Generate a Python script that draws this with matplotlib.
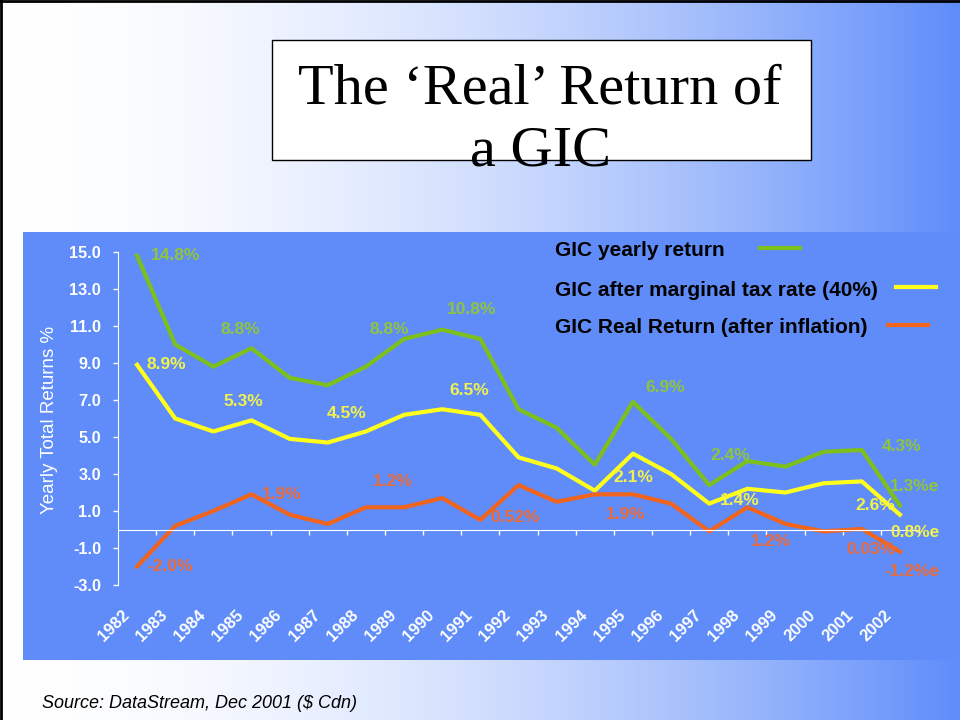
import numpy as np
import matplotlib.pyplot as plt
from matplotlib.patches import Rectangle
from matplotlib.lines import Line2D
import matplotlib.transforms as mtransforms

plt.rcParams['font.family'] = ['Liberation Sans', 'DejaVu Sans']

# data
years = [str(y) for y in range(1982, 2003)]
gic_yearly = [14.8, 10.0, 8.8, 9.8, 8.2, 7.8, 8.8, 10.3, 10.8, 10.3, 6.5,
              5.5, 3.5, 6.9, 4.9, 2.4, 3.7, 3.4, 4.2, 4.3, 1.3]
gic_after_tax = [8.9, 6.0, 5.3, 5.9, 4.9, 4.7, 5.3, 6.2, 6.5, 6.2, 3.9,
                 3.3, 2.1, 4.1, 3.0, 1.4, 2.2, 2.0, 2.5, 2.6, 0.8]
gic_real = [-2.0, 0.2, 1.0, 1.9, 0.8, 0.3, 1.2, 1.2, 1.7, 0.52, 2.4,
            1.5, 1.9, 1.9, 1.4, -0.1, 1.2, 0.3, -0.1, 0.03, -1.2]

series_names = ['GIC yearly return',
                'GIC after marginal tax rate (40%)',
                'GIC Real Return (after inflation)']

# point labels: (index of point, text)
yearly_labels = [(0, '14.8%'), (2, '8.8%'), (6, '8.8%'), (8, '10.8%'),
                 (13, '6.9%'), (15, '2.4%'), (19, '4.3%'), (20, '1.3%e')]
after_tax_labels = [(0, '8.9%'), (2, '5.3%'), (5, '4.5%'), (8, '6.5%'),
                    (12, '2.1%'), (15, '1.4%'), (19, '2.6%'), (20, '0.8%e')]
real_labels = [(0, '-2.0%'), (3, '1.9%'), (6, '1.2%'), (9, '0.52%'),
               (13, '1.9%'), (16, '1.2%'), (19, '0.03%'), (20, '-1.2%e')]

# label offsets in pixels, up is positive (layout only)
yearly_off = [(38, 0), (27, 37), (23, 37), (29, 20), (32, 14), (21, 30), (40, 3), (15, 19)]
after_tax_off = [(29, 0), (30, 30), (19, 29), (27, 19), (39, 13), (31, 3), (13, -24), (15, -18)]
real_off = [(33, 0), (30, 0), (27, 26), (35, 2), (-7, -20), (23, -34), (9, -21), (12, -20)]

green, yellow, orange = '#7dbf1d', '#ffff1a', '#f0641e'
green_t, yellow_t, orange_t = '#8fc43f', '#f2f24a', '#e86a3a'
panel_blue = '#5f8cf8'

fig = plt.figure(figsize=(9.6, 7.2), dpi=100)

# slide background
bg = fig.add_axes([0, 0, 1, 1], zorder=-10)
t = np.linspace(0, 1, 960) ** 1.8
white = np.array([1.0, 1.0, 1.0])
blue = np.array([0.37, 0.55, 0.98])
grad = white[None, :] * (1 - t[:, None]) + blue[None, :] * t[:, None]
bg.imshow(grad[None, :, :], aspect='auto', extent=[0, 1, 0, 1])
bg.set_xlim(0, 1)
bg.set_ylim(0, 1)
bg.axis('off')
bg.plot([0.001, 0.001], [0, 1], color='black', lw=2)
bg.plot([0, 1], [0.999, 0.999], color='black', lw=2)
bg.add_patch(Rectangle((23 / 960, 60 / 720), 937 / 960, 428 / 720, color=panel_blue, lw=0))
# title box
bg.add_patch(Rectangle((272 / 960, 1 - 160 / 720), 539 / 960, 120 / 720,
                       facecolor='white', edgecolor='black', lw=1))
bg.text(540 / 960, 1 - 121 / 720, 'The \u2018Real\u2019 Return of\na GIC',
        ha='center', va='center', fontsize=42, family='Liberation Serif',
        linespacing=1.25)

ax = fig.add_axes([118 / 960, 1 - 585 / 720, 801 / 960, 333 / 720])
ax.set_facecolor('none')
x = np.arange(len(years))
ax.plot(x, gic_yearly, color=green, lw=3)
ax.plot(x, gic_after_tax, color=yellow, lw=3)
ax.plot(x, gic_real, color=orange, lw=3)

for labels, offs, vals, col in [(yearly_labels, yearly_off, gic_yearly, green_t),
                                (after_tax_labels, after_tax_off, gic_after_tax, yellow_t),
                                (real_labels, real_off, gic_real, orange_t)]:
    for (i, txt), (dx, dy) in zip(labels, offs):
        ax.annotate(txt, xy=(i, vals[i]), xytext=(dx, dy), textcoords='offset pixels',
                    ha='center', va='center', color=col, fontsize=12.5, fontweight='bold')

ax.set_xlim(-0.5, 20.5)
ax.set_ylim(-3, 15)
ax.set_yticks(np.arange(-3, 16, 2))
ax.set_yticklabels(['%.1f' % v for v in np.arange(-3, 16, 2)])
ax.tick_params(axis='y', colors='white', length=3.6, width=1, labelsize=11.7, pad=8.6)
for lab in ax.get_yticklabels():
    lab.set_fontweight('bold')
ax.spines['left'].set_color('white')
ax.spines['bottom'].set_color('white')
ax.spines['bottom'].set_position(('data', 0))
ax.spines['top'].set_visible(False)
ax.spines['right'].set_visible(False)
ax.set_xticks([])
ax.set_xticks(np.arange(0.5, 20.6, 1), minor=True)
ax.tick_params(axis='x', which='minor', colors='white', length=3.6, width=1, direction='out')
ax.set_ylabel('Yearly Total Returns %', color='white', fontsize=13.5)
ax.yaxis.set_label_coords(-0.075, 0.4955)

sec = ax.secondary_xaxis('bottom')
sec.spines['bottom'].set_visible(False)
sec.set_xticks(x)
sec.set_xticklabels(years, rotation=45, ha='right', fontweight='bold')
sec.tick_params(length=0, pad=16, colors='white', labelsize=12)
shift = mtransforms.ScaledTranslation(-5 / 100, 0, fig.dpi_scale_trans)
for lab in sec.get_xticklabels():
    lab.set_transform(lab.get_transform() + shift)

# legend, text on the left, sample on the right
leg_y = [251, 290, 328]
sample_x = [(760, 800), (896, 936), (888, 928)]
for name, yy, (x0, x1), col in zip(series_names, leg_y, sample_x, [green, yellow, orange]):
    fig.text(555 / 960, 1 - yy / 720, name, ha='left', va='center',
             fontsize=15, fontweight='bold', color='black')
    fig.add_artist(Line2D([x0 / 960, x1 / 960], [1 - (yy - 3) / 720] * 2,
                          color=col, lw=3, transform=fig.transFigure))

fig.text(42 / 960, 1 - 703 / 720, 'Source: DataStream, Dec 2001 ($ Cdn)',
         ha='left', va='center', fontsize=13, style='italic', color='black')

fig.savefig('out.png', dpi=100)
